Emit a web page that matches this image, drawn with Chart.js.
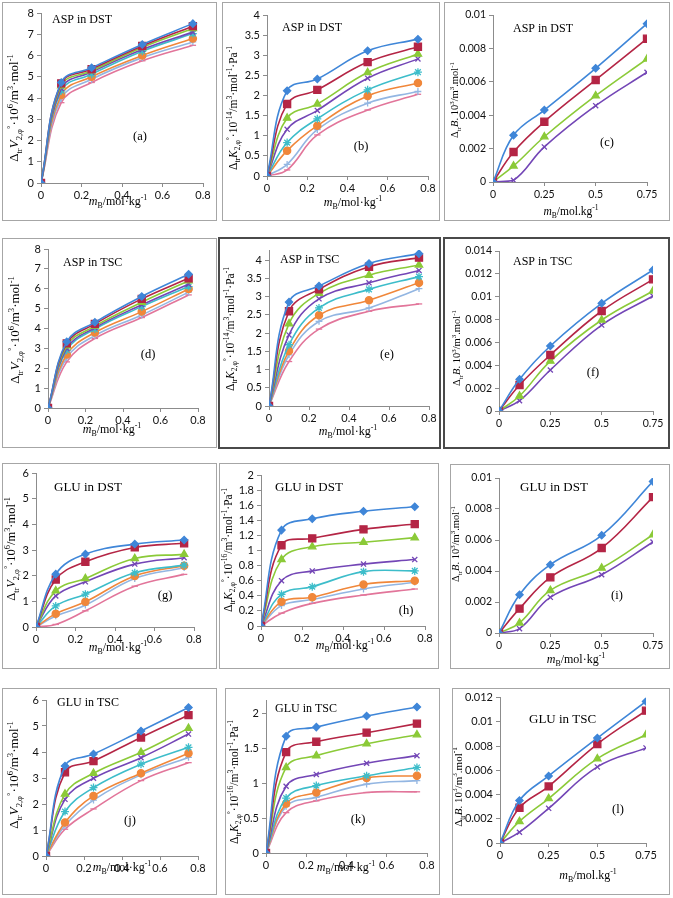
<!DOCTYPE html>
<html><head><meta charset="utf-8">
<script src="https://cdn.jsdelivr.net/npm/chart.js@4/dist/chart.umd.min.js"></script>
<style>
html,body{margin:0;padding:0;background:#fff;}
#wrap{position:relative;width:673px;height:898px;background:#fff;overflow:hidden;}
.bx{position:absolute;box-sizing:border-box;border:1px solid #a6a6a6;pointer-events:none;}
.bx.dark{border:2px solid #4a4a4a;}
canvas{position:absolute;}
</style></head>
<body><div id="wrap"></div>
<script>
// ---------- data ----------
const mB = [0, 0.1, 0.25, 0.5, 0.75];
const xTicks08 = [0, 0.2, 0.4, 0.6, 0.8];
const xTicks075 = [0, 0.25, 0.5, 0.75];
const yTicksV8 = [0, 1, 2, 3, 4, 5, 6, 7, 8];
const yTicksV6 = [0, 1, 2, 3, 4, 5, 6];
const yTicksK4 = [0, 0.5, 1, 1.5, 2, 2.5, 3, 3.5, 4];
const yTicksK2a = [0, 0.2, 0.4, 0.6, 0.8, 1, 1.2, 1.4, 1.6, 1.8, 2];
const yTicksK2b = [0, 0.5, 1, 1.5, 2];
const yTicksB10 = [0, 0.002, 0.004, 0.006, 0.008, 0.01];
const yTicksB14 = [0, 0.002, 0.004, 0.006, 0.008, 0.01, 0.012, 0.014];
const yTicksB12 = [0, 0.002, 0.004, 0.006, 0.008, 0.01, 0.012];

const panelTitles = ['ASP in DST','ASP in DST','ASP in DST','ASP in TSC','ASP in TSC','ASP in TSC',
                     'GLU in DST','GLU in DST','GLU in DST','GLU in TSC','GLU in TSC','GLU in TSC'];
const panelLabels = ['(a)','(b)','(c)','(d)','(e)','(f)','(g)','(h)','(i)','(j)','(k)','(l)'];

const valuesA = [
 [0,4.73,5.42,6.52,7.50],[0,4.69,5.36,6.45,7.38],[0,4.58,5.28,6.38,7.27],[0,4.45,5.22,6.28,7.10],
 [0,4.34,5.12,6.20,7.03],[0,4.14,5.00,6.00,6.80],[0,3.98,4.88,5.90,6.64],[0,3.78,4.73,5.75,6.48]];
const valuesB = [
 [0,2.12,2.41,3.11,3.40],[0,1.79,2.14,2.83,3.21],[0,1.44,1.79,2.57,3.03],[0,1.16,1.63,2.43,2.91],
 [0,0.83,1.42,2.14,2.58],[0,0.63,1.25,1.99,2.31],[0,0.29,1.15,1.81,2.10],[0,0.15,1.02,1.64,2.03]];
const valuesC = [
 [0,0.0028,0.00431,0.00681,0.00948],[0,0.0018,0.00361,0.00611,0.00858],
 [0,0.00096,0.00271,0.00517,0.00737],[0,0.0001,0.0021,0.00457,0.00657]];
const valuesD = [
 [0,3.33,4.31,5.61,6.73],[0,3.25,4.23,5.49,6.53],[0,3.13,4.12,5.32,6.40],[0,3.00,4.04,5.19,6.23],
 [0,2.91,3.97,5.10,6.11],[0,2.69,3.80,4.85,5.99],[0,2.53,3.64,4.68,5.83],[0,2.32,3.50,4.55,5.69]];
const valuesE = [
 [0,2.85,3.29,3.91,4.18],[0,2.60,3.20,3.82,4.07],[0,2.26,3.09,3.59,3.87],[0,1.95,2.94,3.38,3.72],
 [0,1.68,2.69,3.20,3.55],[0,1.51,2.49,2.90,3.38],[0,1.40,2.32,2.69,3.22],[0,1.22,2.11,2.60,2.80]];
const valuesF = [
 [0,0.00277,0.00569,0.00942,0.01234],[0,0.00227,0.0049,0.00875,0.01152],
 [0,0.00131,0.00437,0.00796,0.0105],[0,0.0009,0.00359,0.00752,0.01006]];
const valuesG = [
 [0,2.06,2.84,3.23,3.39],[0,1.85,2.54,3.10,3.26],[0,1.41,1.89,2.67,2.83],[0,1.21,1.76,2.45,2.70],
 [0,0.82,1.28,2.11,2.41],[0,0.52,0.98,1.99,2.39],[0,0.43,0.85,1.89,2.31],[0,0.10,0.63,1.59,2.05]];
const valuesH = [
 [0,1.27,1.42,1.52,1.58],[0,1.07,1.16,1.28,1.35],[0,0.88,1.05,1.11,1.17],[0,0.60,0.73,0.82,0.88],
 [0,0.42,0.52,0.72,0.73],[0,0.32,0.38,0.55,0.60],[0,0.27,0.35,0.49,0.58],[0,0.17,0.30,0.41,0.49]];
const valuesI = [
 [0,0.00247,0.00441,0.0063,0.00978],[0,0.00157,0.00359,0.00548,0.00877],
 [0,0.00065,0.00275,0.00419,0.00634],[0,0.00028,0.0023,0.00376,0.00587]];
const valuesJ = [
 [0,3.46,3.92,4.81,5.71],[0,3.22,3.65,4.56,5.42],[0,2.38,3.18,3.99,4.91],[0,2.18,2.99,3.78,4.69],
 [0,1.71,2.63,3.53,4.18],[0,1.29,2.31,3.18,3.95],[0,1.17,2.15,3.12,3.79],[0,1.03,1.81,2.90,3.59]];
const valuesK = [
 [0,1.68,1.81,1.97,2.10],[0,1.45,1.60,1.73,1.86],[0,1.23,1.40,1.57,1.70],[0,0.96,1.13,1.29,1.40],
 [0,0.79,0.97,1.11,1.23],[0,0.71,0.87,1.08,1.11],[0,0.67,0.80,0.99,1.04],[0,0.58,0.75,0.87,0.88]];
const valuesL = [
 [0,0.00351,0.00553,0.00866,0.01168],[0,0.00291,0.00467,0.00817,0.01092],
 [0,0.00178,0.00367,0.00696,0.00893],[0,0.00089,0.00286,0.00628,0.00785]];

// ---------- styles ----------
const colors = ['#3f86d8','#b42545','#8bca38','#7346b6','#3dbdca','#f0873a','#93b6e2','#e2759a'];
const markers = [
 {s:'rectRot',r:3.6},{s:'rect',r:5},{s:'triangle',r:4.2},{s:'crossRot',r:3.6},
 {s:'star',r:4},{s:'circle',r:3.6},{s:'cross',r:3.4},{s:'line',r:3.2}];

const SERIF = '"Liberation Serif", "Times New Roman", serif';
const yTitleV = [['Δ',''],['tr','sub'],['V','i'],['2,φ','sub'],['°','sup'],['·10',''],['6','sup'],['/m',''],['3','sup'],['·mol',''],['-1','sup']];
const yTitleK14 = [['Δ',''],['tr','sub'],['K','i'],['2,φ','sub'],['°','sup'],['·10',''],['-14','sup'],['/m',''],['3','sup'],['·mol',''],['-1','sup'],['·Pa',''],['-1','sup']];
const yTitleK16 = [['Δ',''],['tr','sub'],['K','i'],['2,φ','sub'],['°','sup'],['·10',''],['-16','sup'],['/m',''],['3','sup'],['·mol',''],['-1','sup'],['·Pa',''],['-1','sup']];
const yTitleB = [['Δ',''],['tr','sub'],['B','i'],['. 10',''],['3','sup'],['/m',''],['3','sup'],['.mol',''],['-1','sup']];
const xTitleDot = [['m','i'],['B','sub'],['/mol·kg',''],['-1','sup']];
const xTitlePeriod = [['m','i'],['B','sub'],['/mol.kg',''],['-1','sup']];

function segFont(st, size){
  const small = (st==='sub'||st==='sup');
  const sz = small ? size*0.66 : size;
  return (st==='i'?'italic ':'') + sz.toFixed(1) + 'px ' + SERIF;
}
function drawRich(ctx, segs, cx, cy, angle, size){
  ctx.save();
  let total = 0;
  const widths = segs.map(([t,st])=>{ctx.font = segFont(st,size); const w = ctx.measureText(t).width; total += w; return w;});
  ctx.translate(cx, cy); ctx.rotate(angle);
  ctx.textAlign='left'; ctx.textBaseline='alphabetic'; ctx.fillStyle='#000';
  let x = -total/2; const base = size*0.33;
  segs.forEach(([t,st],i)=>{
    ctx.font = segFont(st,size);
    const dy = st==='sub' ? size*0.28 : (st==='sup' ? -size*0.38 : 0);
    ctx.fillText(t, x, base+dy); x += widths[i];
  });
  ctx.restore();
}
function fmt(v){ return String(parseFloat(Number(v).toFixed(5))); }

// ---------- layout (page coordinates) ----------
const panels = [
 {vals:valuesA, box:[2,2,215,219],   area:[41,13,203,183],  xMax:0.8, xt:xTicks08, yMax:8, yt:yTicksV8, yT:yTitleV, ytPos:[14,108,13], xT:xTitleDot, xtPos:[118,201,12], tPos:[52,23,12], lPos:[140,137], dark:false, tf:11},
 {vals:valuesB, box:[222,2,218,219], area:[267,15,428,176], xMax:0.8, xt:xTicks08, yMax:4, yt:yTicksK4, yT:yTitleK14, ytPos:[233,108,11.5], xT:xTitleDot, xtPos:[353,202,12], tPos:[282,31,12], lPos:[361,147], dark:false, tf:11},
 {vals:valuesC, box:[444,2,226,219], area:[493,15,647,182], xMax:0.75, xt:xTicks075, yMax:0.01, yt:yTicksB10, yT:yTitleB, ytPos:[455,100,10.5], xT:xTitlePeriod, xtPos:[571,211,11.5], tPos:[513,32,12], lPos:[607,143], dark:false, tf:10.5},
 {vals:valuesD, box:[2,238,215,210], area:[48,249,198,408], xMax:0.8, xt:xTicks08, yMax:8, yt:yTicksV8, yT:yTitleV, ytPos:[15,330,13], xT:xTitleDot, xtPos:[112,429,12], tPos:[63,266,12], lPos:[148,355], dark:false, tf:11},
 {vals:valuesE, box:[218,237,223,212], area:[269,250,429,406], xMax:0.8, xt:xTicks08, yMax:4.28, yt:yTicksK4, yT:yTitleK14, ytPos:[230,329,11.5], xT:xTitleDot, xtPos:[348,431,12], tPos:[280,263,12], lPos:[387,355], dark:true, tf:11},
 {vals:valuesF, box:[443,237,227,212], area:[499,251,653,411], xMax:0.75, xt:xTicks075, yMax:0.014, yt:yTicksB14, yT:yTitleB, ytPos:[457,348,10.5], xT:null, xtPos:null, tPos:[513,265,12], lPos:[593,373], dark:true, tf:10.5},
 {vals:valuesG, box:[2,463,215,206], area:[36,473,194,627], xMax:0.8, xt:xTicks08, yMax:6, yt:yTicksV6, yT:yTitleV, ytPos:[11,549,12.5], xT:xTitleDot, xtPos:[118,647,12], tPos:[54,491,13], lPos:[165,596], dark:false, tf:11},
 {vals:valuesH, box:[219,463,220,206], area:[261,475,425,626], xMax:0.8, xt:xTicks08, yMax:2, yt:yTicksK2a, yT:yTitleK16, ytPos:[228,550,11.5], xT:xTitleDot, xtPos:[345,645,12], tPos:[275,491,13], lPos:[406,611], dark:false, tf:11},
 {vals:valuesI, box:[450,464,220,205], area:[499,478,653,633], xMax:0.75, xt:xTicks075, yMax:0.01, yt:yTicksB10, yT:yTitleB, ytPos:[456,544,10.5], xT:xTitleDot, xtPos:[576,659,12], tPos:[520,491,13], lPos:[617,596], dark:false, tf:10.5},
 {vals:valuesJ, box:[2,688,215,207], area:[46,700,198,856], xMax:0.8, xt:xTicks08, yMax:6, yt:yTicksV6, yT:yTitleV, ytPos:[14,775,13], xT:xTitleDot, xtPos:[122,867,12], tPos:[57,706,12], lPos:[130,821], dark:false, tf:11},
 {vals:valuesK, box:[225,688,215,207], area:[266,700,427,853], xMax:0.8, xt:xTicks08, yMax:2.2, yt:yTicksK2b, yT:yTitleK16, ytPos:[234,782,11.5], xT:xTitleDot, xtPos:[346,867,12], tPos:[275,712,12], lPos:[358,820], dark:false, tf:11},
 {vals:valuesL, box:[452,688,218,207], area:[500,694,646,843], xMax:0.75, xt:xTicks075, yMax:0.012, yt:yTicksB12, yT:yTitleB, ytPos:[458,787,11], xT:xTitlePeriod, xtPos:[588,875,12], tPos:[529,723,13], lPos:[618,810], dark:false, tf:11}
];

const wrap = document.getElementById('wrap');

panels.forEach((p, idx)=>{
  const [bx,by,bw,bh] = p.box;
  const [L,T,R,B] = p.area;
  const TICKFONT = {family:'Lato, "Liberation Sans", sans-serif', size:p.tf};
  const cv = document.createElement('canvas');
  cv.width = bw; cv.height = bh;
  cv.style.left = bx+'px'; cv.style.top = by+'px';
  cv.style.width = bw+'px'; cv.style.height = bh+'px';
  wrap.appendChild(cv);
  const border = document.createElement('div');
  border.className = 'bx' + (p.dark ? ' dark' : '');
  border.style.left = bx+'px'; border.style.top = by+'px';
  border.style.width = bw+'px'; border.style.height = bh+'px';
  wrap.appendChild(border);

  const datasets = p.vals.map((arr, i)=>({
    data: mB.map((x, j)=>({x:x, y:arr[j]})),
    borderColor: colors[i], backgroundColor: colors[i],
    pointBorderColor: colors[i], pointBackgroundColor: colors[i],
    borderWidth: 1.6, pointStyle: markers[i].s, pointRadius: markers[i].r,
    pointBorderWidth: 1.3, tension: 0.4, fill: false
  }));

  const annot = {
    id: 'annot'+idx,
    afterDraw(chart){
      const ctx = chart.ctx;
      ctx.save();
      ctx.fillStyle = '#000';
      ctx.font = p.tPos[2]+'px '+SERIF;
      ctx.textAlign = 'left'; ctx.textBaseline = 'alphabetic';
      ctx.fillText(panelTitles[idx], p.tPos[0]-bx, p.tPos[1]-by);
      ctx.font = '12.5px '+SERIF;
      ctx.textAlign = 'center'; ctx.textBaseline = 'middle';
      ctx.fillText(panelLabels[idx], p.lPos[0]-bx, p.lPos[1]-by);
      drawRich(ctx, p.yT, p.ytPos[0]-bx, p.ytPos[1]-by, -Math.PI/2, p.ytPos[2]);
      if (p.xT) drawRich(ctx, p.xT, p.xtPos[0]-bx, p.xtPos[1]-by, 0, p.xtPos[2]);
      ctx.restore();
    }
  };

  new Chart(cv, {
    type: 'line',
    data: {datasets},
    plugins: [annot],
    options: {
      responsive: false, animation: false, devicePixelRatio: 1,
      layout: {padding: {left: 0, top: T-by, right: (bx+bw)-R, bottom: 0}},
      plugins: {legend: {display: false}, tooltip: {enabled: false}},
      scales: {
        x: {
          type: 'linear', min: 0, max: p.xMax,
          afterBuildTicks: s => { s.ticks = p.xt.map(v=>({value:v})); },
          afterFit: s => { s.height = (by+bh) - B; },
          grid: {drawOnChartArea: false, drawTicks: true, tickLength: 4, color: '#8c8c8c'},
          border: {color: '#8c8c8c', width: 1},
          ticks: {font: TICKFONT, color: '#111', padding: 2, maxRotation: 0, autoSkip: false, callback: v => fmt(v)}
        },
        y: {
          type: 'linear', min: 0, max: p.yMax,
          afterBuildTicks: s => { s.ticks = p.yt.map(v=>({value:v})); },
          afterFit: s => { s.width = L - bx; },
          grid: {drawOnChartArea: false, drawTicks: true, tickLength: 4, color: '#8c8c8c'},
          border: {color: '#8c8c8c', width: 1},
          ticks: {font: TICKFONT, color: '#111', padding: 3, autoSkip: false, callback: v => fmt(v)}
        }
      }
    }
  });
});
</script>
</body></html>
